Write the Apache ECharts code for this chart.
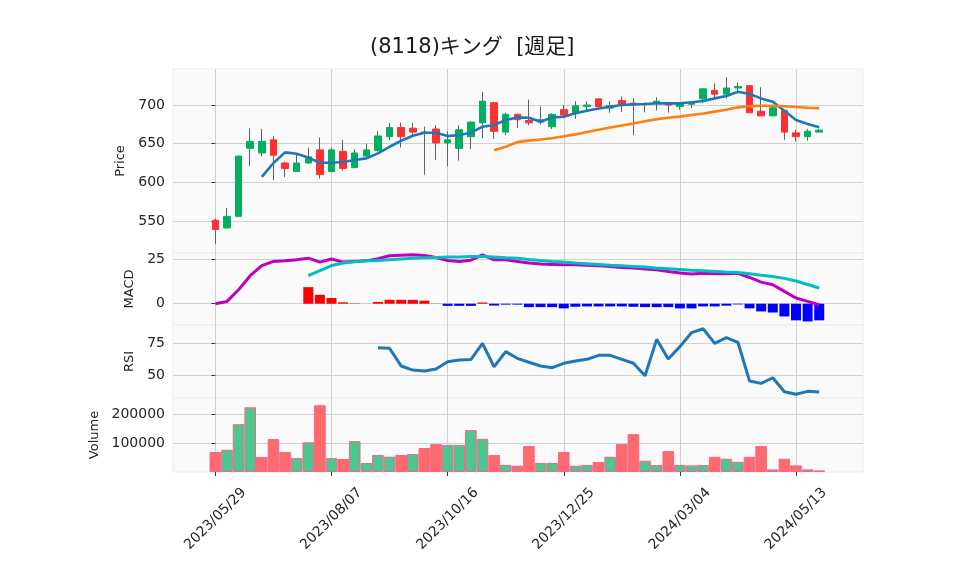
<!DOCTYPE html>
<html>
<head>
<meta charset="utf-8">
<script src="https://cdn.jsdelivr.net/npm/echarts@6/dist/echarts.min.js"></script>
<style>
html,body{margin:0;padding:0;background:#fff;}
#chart{width:958px;height:575px;}
</style>
</head>
<body>
<div id="chart"></div>
<script>
const dates = ["2023/05/29","2023/06/05","2023/06/12","2023/06/19","2023/06/26","2023/07/03","2023/07/10","2023/07/17","2023/07/24","2023/07/31",
"2023/08/07","2023/08/14","2023/08/21","2023/08/28","2023/09/04","2023/09/11","2023/09/18","2023/09/25","2023/10/02","2023/10/09",
"2023/10/16","2023/10/23","2023/10/30","2023/11/06","2023/11/13","2023/11/20","2023/11/27","2023/12/04","2023/12/11","2023/12/18",
"2023/12/25","2024/01/01","2024/01/08","2024/01/15","2024/01/22","2024/01/29","2024/02/05","2024/02/12","2024/02/19","2024/02/26",
"2024/03/04","2024/03/11","2024/03/18","2024/03/25","2024/04/01","2024/04/08","2024/04/15","2024/04/22","2024/04/29","2024/05/06",
"2024/05/13","2024/05/20","2024/05/27"];
const xTickIndex = [0,10,20,30,40,50];

const open  = [551,541,556,644,638,655,625,614,625,642,614,640,619,634,641,659,671,670,665,669,651,644,659,677,703,665,688,680,678,672,694,689,698,708,696,706,702.5,701,702,702,698,701,708,719,714,722,725,692,686,693,664,659,665];
const close = [539,556,634,653,653,635,618,625,633,610,642,618,638,642,660,671,659,665,664,651,655,668,678,705,666,688,681,677,681,688,687,699,700,698,699,701,702,701.5,705,700,702,703.5,721,714,722,724,690,686,696.5,665,659,666,667.5];
const low   = [520,540,556,621,634,603,607,614,624,605,613,615,619,634,640,655,645,661,610,629,621,628,643,657,656,661,670,674,675,669,683,682,691,698,690,691,661,690.5,693,690,694,696,703,708,708,715,690,686,686,655,653,654,665];
const high  = [553,567,634,670,669,660,627,636,645,658,645,655,643,650,666,677,677,677,672,674,666,674,678,717,704,690,689,707,698,689,700,705,705,708,705,711,708.6,703.5,710,703,703,704,721,728,736,729,725,723,697,693,668,669,669];

const ma5 = [null,null,null,null,607,625,638.8,637,632,625.4,625.4,626.3,628.9,631,637.5,646,653.8,660.3,664.2,664.2,659.8,661.2,664.2,672,674,680.6,684,683.6,678.4,684,684.9,689.3,692.7,695.5,697.8,700,700.9,701.3,702.2,702.2,702.2,703.5,705.2,708.6,711.6,717.2,714.2,708.6,704.3,692.5,680.6,675.4,671.2];
const ma25 = [null,null,null,null,null,null,null,null,null,null,null,null,null,null,null,null,null,null,null,null,null,null,null,null,641.5,646,652,654,655.5,657,659.5,662,665,668,671,673.5,676,679,681.5,683.5,685,687,689,691.5,694,697,698.5,699,699,698.5,697.5,696.5,696];

const macd = [0,1.3,7.8,15.7,21.3,23.7,24.1,24.6,25.5,23.3,25,23.3,23.7,24,25.2,26.9,27.2,27.4,27,25.9,24.2,23.7,24.4,27.4,24.6,24.6,23.7,22.8,22.2,22,21.8,21.8,21.6,21.3,20.9,20.3,20,19.4,19,18.1,17.2,16.6,17,16.8,16.8,17,14.7,12.1,10.6,6.9,3.2,1.3,-0.6];
const signal = [null,null,null,null,null,null,null,null,15.7,18.6,21.4,22.8,23.5,24,24.2,24.6,25,25.4,25.7,25.9,26.1,26.1,26.4,26.5,26.1,25.7,25.4,24.8,24.2,23.7,23.3,22.8,22.4,22,21.6,21.3,20.9,20.5,20,19.6,19.2,18.8,18.5,18.1,17.7,17.5,16.8,16,15.3,14.2,12.7,10.8,8.8];
const hist = [null,null,null,null,null,null,null,null,9.3,5.0,3.2,0.8,0.2,0,1.0,2.2,2.2,2.2,1.7,0.1,-1.2,-1.2,-1.2,0.7,-1.0,-0.5,-0.5,-1.9,-1.9,-1.9,-2.6,-1.7,-1.5,-1.5,-1.5,-1.5,-1.7,-1.9,-1.9,-1.9,-2.6,-2.6,-1.5,-1.5,-1.1,-0.4,-2.6,-4.3,-4.9,-7.1,-9.3,-9.9,-9.3];

const rsi = [null,null,null,null,null,null,null,null,null,null,null,null,null,null,71.6,71.1,57.3,54.1,53.4,54.9,60.6,62,62.3,75,56.7,68.5,63.3,60.2,57.3,56,59.4,61.2,62.5,65.6,65.6,62.5,59.4,49.7,78.1,62.7,72.4,83.3,86.4,75,79.4,75.8,45.5,43.7,48.1,37.2,35.2,37.5,37];

const volume = [69000,77000,165500,224000,52000,114000,69000,48000,103000,231000,48000,45000,107000,31000,59000,53000,59000,62000,83000,96500,93000,93000,145000,115000,58600,24000,21700,89600,31000,31000,69000,21700,24000,34500,52800,96500,131000,39000,24000,72400,24000,22800,24000,52800,45900,35500,52800,89600,9000,45900,22800,9000,5500];
const volumeUp = [0,1,1,1,0,0,0,1,1,0,1,0,1,1,1,1,0,1,0,0,1,1,1,1,0,1,0,0,1,1,0,1,1,0,1,0,0,1,1,0,1,1,1,0,1,1,0,0,1,0,0,1,1];

const priceTicks = [550,600,650,700];
const macdTicks = [0,25];
const rsiTicks = [50,75];
const volumeTicks = [100000,200000];

// ---- build ----
const pairs = arr => arr.map((v,i)=>[i,v]).filter(p=>p[1]!==null);
const wickData = open.map((o,i)=>[i,o,close[i],low[i],high[i]]);
const bodyData = open.map((o,i)=>[i,o,close[i],Math.min(o,close[i]),Math.max(o,close[i])]);

const FONT = 'DejaVu Sans';
const TICK_SIZE = 14;
const X_MIN = -3.65, X_MAX = 55.77;
const gridCommon = {left:173, right:95, show:true, backgroundColor:'#fafafa', borderColor:'#ebebeb', borderWidth:1};
const grids = [
  Object.assign({top:69, height:184}, gridCommon),
  Object.assign({top:253, height:72}, gridCommon),
  Object.assign({top:325, height:73}, gridCommon),
  Object.assign({top:398, height:74}, gridCommon)
];
const splitStyle = {show:true, lineStyle:{color:'#d0d0d0', width:1}};
const xAxes = [0,1,2,3].map(g=>({
  type:'value', gridIndex:g, min:X_MIN, max:X_MAX,
  axisLine:{show:false},
  axisTick:{show:g===3, customValues:xTickIndex, length:4, lineStyle:{color:'#333'}},
  axisLabel:{show:g===3, customValues:xTickIndex, rotate:45, align:'center', verticalAlign:'middle', margin:47,
    color:'#262626', fontFamily:FONT, fontSize:TICK_SIZE, formatter:v=>dates[v]},
  splitLine:splitStyle
}));
function yAx(g, min, max, ticks, name, gap){
  return {type:'value', gridIndex:g, min:min, max:max, position:'left',
    name:name, nameLocation:'middle', nameGap:gap, nameRotate:90,
    nameTextStyle:{color:'#262626', fontFamily:FONT, fontSize:13},
    axisLine:{show:false},
    axisTick:{show:true, customValues:ticks, length:4, lineStyle:{color:'#333'}},
    axisLabel:{customValues:ticks, color:'#262626', fontFamily:FONT, fontSize:TICK_SIZE, margin:8, formatter:v=>String(v)},
    splitLine:splitStyle};
}
const yAxes = [
  yAx(0, 508.6, 746.6, priceTicks, 'Price', 41),
  yAx(1, -11.9, 28.4, macdTicks, 'MACD', 32),
  yAx(2, 32.3, 89.3, rsiTicks, 'RSI', 32),
  yAx(3, 0, 256200, volumeTicks, 'Volume', 68)
];

const option = {
  animation:false,
  backgroundColor:'#ffffff',
  title:{text:'(8118)キング  [週足]', left:365, top:32,
    textStyle:{fontFamily:"'DejaVu Sans','Noto Sans CJK JP'", fontSize:21, fontWeight:'normal', color:'#1a1a1a'}},
  grid:grids, xAxis:xAxes, yAxis:yAxes,
  series:[
    {type:'candlestick', xAxisIndex:0, yAxisIndex:0, data:wickData, encode:{x:0,y:[1,2,3,4]}, barWidth:1,
      itemStyle:{color:'#606060', color0:'#606060', borderColor:'#606060', borderColor0:'#606060', borderWidth:1}},
    {type:'candlestick', xAxisIndex:0, yAxisIndex:0, data:bodyData, encode:{x:0,y:[1,2,3,4]}, barWidth:7,
      itemStyle:{color:'#00b060', color0:'#fe3032', borderColor:'#00b060', borderColor0:'#fe3032', borderWidth:1}},
    {type:'line', xAxisIndex:0, yAxisIndex:0, data:pairs(ma5), showSymbol:false, lineStyle:{color:'#1f77b4', width:2.6}, z:5},
    {type:'line', xAxisIndex:0, yAxisIndex:0, data:pairs(ma25), showSymbol:false, lineStyle:{color:'#ff7f0e', width:2.6}, z:5},
    {type:'bar', xAxisIndex:1, yAxisIndex:1, data:pairs(hist), barWidth:10,
      itemStyle:{color:p=>p.value[1]>=0?'#ff0000':'#0000ff'}},
    {type:'line', xAxisIndex:1, yAxisIndex:1, data:pairs(macd), showSymbol:false, lineStyle:{color:'#bf00bf', width:3}, z:5},
    {type:'line', xAxisIndex:1, yAxisIndex:1, data:pairs(signal), showSymbol:false, lineStyle:{color:'#00bfbf', width:3}, z:5},
    {type:'line', xAxisIndex:2, yAxisIndex:2, data:pairs(rsi), showSymbol:false, lineStyle:{color:'#1f77b4', width:3}, z:5},
    {type:'bar', xAxisIndex:3, yAxisIndex:3, data:pairs(volume), barWidth:11.6,
      itemStyle:{color:p=>volumeUp[p.dataIndex]?'#4dc790':'#fd6b6c',
                 borderColor:p=>volumeUp[p.dataIndex]?'#3fbf85':'#f65656', borderWidth:1}}
  ]
};
const chart = echarts.init(document.getElementById('chart'), null, {renderer:'canvas'});
chart.setOption(option);
</script>
</body>
</html>
